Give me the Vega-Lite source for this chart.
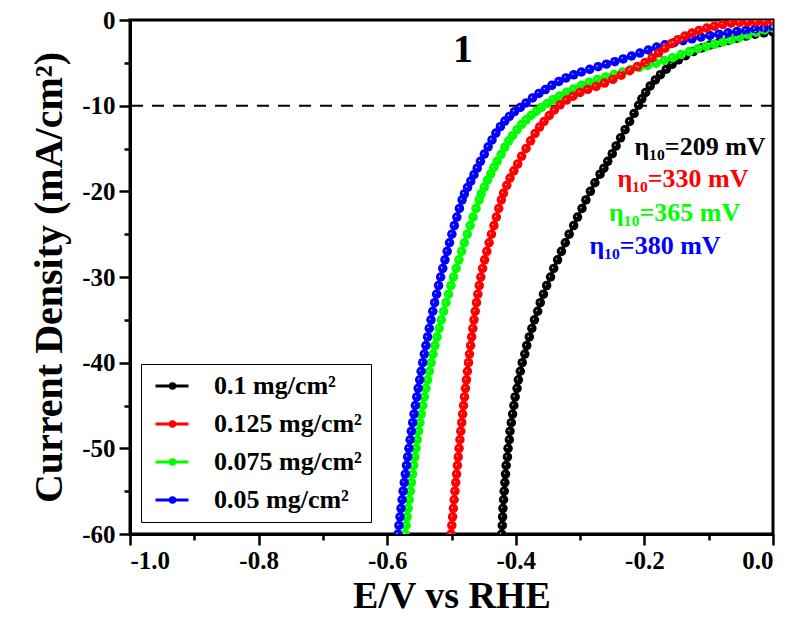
{
"$schema": "https://vega.github.io/schema/vega-lite/v6.json",
"width": 643, "height": 514,
"autosize": "none",
"padding": {"left": 130, "top": 20, "right": 23, "bottom": 90},
"background": "white",
"datasets": {
"curves": [
{"s":"0.1 mg/cm²","E":0,"j":-1.40},{"s":"0.1 mg/cm²","E":-0.014,"j":-1.50},{"s":"0.1 mg/cm²","E":-0.028,"j":-1.66},{"s":"0.1 mg/cm²","E":-0.042,"j":-1.88},{"s":"0.1 mg/cm²","E":-0.056,"j":-2.13},{"s":"0.1 mg/cm²","E":-0.070,"j":-2.38},{"s":"0.1 mg/cm²","E":-0.084,"j":-2.63},{"s":"0.1 mg/cm²","E":-0.098,"j":-2.91},{"s":"0.1 mg/cm²","E":-0.111,"j":-3.27},{"s":"0.1 mg/cm²","E":-0.124,"j":-3.69},{"s":"0.1 mg/cm²","E":-0.136,"j":-4.16},{"s":"0.1 mg/cm²","E":-0.147,"j":-4.65},{"s":"0.1 mg/cm²","E":-0.157,"j":-5.18},{"s":"0.1 mg/cm²","E":-0.166,"j":-5.75},{"s":"0.1 mg/cm²","E":-0.175,"j":-6.38},{"s":"0.1 mg/cm²","E":-0.183,"j":-7.00},{"s":"0.1 mg/cm²","E":-0.191,"j":-7.70},{"s":"0.1 mg/cm²","E":-0.198,"j":-8.45},{"s":"0.1 mg/cm²","E":-0.204,"j":-9.20},{"s":"0.1 mg/cm²","E":-0.209,"j":-9.95},{"s":"0.1 mg/cm²","E":-0.216,"j":-10.9},{"s":"0.1 mg/cm²","E":-0.223,"j":-11.85},{"s":"0.1 mg/cm²","E":-0.230,"j":-12.8},{"s":"0.1 mg/cm²","E":-0.237,"j":-13.75},{"s":"0.1 mg/cm²","E":-0.244,"j":-14.7},{"s":"0.1 mg/cm²","E":-0.250,"j":-15.6},{"s":"0.1 mg/cm²","E":-0.257,"j":-16.5},{"s":"0.1 mg/cm²","E":-0.263,"j":-17.3},{"s":"0.1 mg/cm²","E":-0.269,"j":-18},{"s":"0.1 mg/cm²","E":-0.277,"j":-19},{"s":"0.1 mg/cm²","E":-0.284,"j":-20},{"s":"0.1 mg/cm²","E":-0.291,"j":-21},{"s":"0.1 mg/cm²","E":-0.297,"j":-22},{"s":"0.1 mg/cm²","E":-0.304,"j":-23},{"s":"0.1 mg/cm²","E":-0.310,"j":-24},{"s":"0.1 mg/cm²","E":-0.317,"j":-25},{"s":"0.1 mg/cm²","E":-0.323,"j":-26},{"s":"0.1 mg/cm²","E":-0.329,"j":-27},{"s":"0.1 mg/cm²","E":-0.335,"j":-28},{"s":"0.1 mg/cm²","E":-0.341,"j":-29},{"s":"0.1 mg/cm²","E":-0.346,"j":-30},{"s":"0.1 mg/cm²","E":-0.352,"j":-31},{"s":"0.1 mg/cm²","E":-0.357,"j":-32},{"s":"0.1 mg/cm²","E":-0.362,"j":-33},{"s":"0.1 mg/cm²","E":-0.366,"j":-34},{"s":"0.1 mg/cm²","E":-0.371,"j":-35},{"s":"0.1 mg/cm²","E":-0.375,"j":-36},{"s":"0.1 mg/cm²","E":-0.379,"j":-37},{"s":"0.1 mg/cm²","E":-0.383,"j":-38},{"s":"0.1 mg/cm²","E":-0.386,"j":-39},{"s":"0.1 mg/cm²","E":-0.390,"j":-40},{"s":"0.1 mg/cm²","E":-0.393,"j":-41},{"s":"0.1 mg/cm²","E":-0.396,"j":-42},{"s":"0.1 mg/cm²","E":-0.398,"j":-43},{"s":"0.1 mg/cm²","E":-0.401,"j":-44},{"s":"0.1 mg/cm²","E":-0.403,"j":-45},{"s":"0.1 mg/cm²","E":-0.405,"j":-46},{"s":"0.1 mg/cm²","E":-0.407,"j":-47},{"s":"0.1 mg/cm²","E":-0.409,"j":-48},{"s":"0.1 mg/cm²","E":-0.410,"j":-49},{"s":"0.1 mg/cm²","E":-0.412,"j":-50},{"s":"0.1 mg/cm²","E":-0.413,"j":-51},{"s":"0.1 mg/cm²","E":-0.415,"j":-52},{"s":"0.1 mg/cm²","E":-0.416,"j":-53},{"s":"0.1 mg/cm²","E":-0.417,"j":-54},{"s":"0.1 mg/cm²","E":-0.418,"j":-55},{"s":"0.1 mg/cm²","E":-0.419,"j":-56},{"s":"0.1 mg/cm²","E":-0.420,"j":-57},{"s":"0.1 mg/cm²","E":-0.4205,"j":-58},{"s":"0.1 mg/cm²","E":-0.421,"j":-59},{"s":"0.1 mg/cm²","E":-0.422,"j":-60},{"s":"0.1 mg/cm²","E":-0.4225,"j":-61},

{"s":"0.075 mg/cm²","E":0,"j":-0.93},{"s":"0.075 mg/cm²","E":-0.013,"j":-1.16},{"s":"0.075 mg/cm²","E":-0.026,"j":-1.43},{"s":"0.075 mg/cm²","E":-0.039,"j":-1.73},{"s":"0.075 mg/cm²","E":-0.052,"j":-2.00},{"s":"0.075 mg/cm²","E":-0.065,"j":-2.30},{"s":"0.075 mg/cm²","E":-0.078,"j":-2.56},{"s":"0.075 mg/cm²","E":-0.091,"j":-2.82},{"s":"0.075 mg/cm²","E":-0.104,"j":-3.08},{"s":"0.075 mg/cm²","E":-0.117,"j":-3.35},{"s":"0.075 mg/cm²","E":-0.130,"j":-3.68},{"s":"0.075 mg/cm²","E":-0.143,"j":-4.03},{"s":"0.075 mg/cm²","E":-0.156,"j":-4.40},{"s":"0.075 mg/cm²","E":-0.169,"j":-4.73},{"s":"0.075 mg/cm²","E":-0.182,"j":-5.04},{"s":"0.075 mg/cm²","E":-0.195,"j":-5.30},{"s":"0.075 mg/cm²","E":-0.208,"j":-5.54},{"s":"0.075 mg/cm²","E":-0.221,"j":-5.79},{"s":"0.075 mg/cm²","E":-0.234,"j":-6.07},{"s":"0.075 mg/cm²","E":-0.247,"j":-6.36},{"s":"0.075 mg/cm²","E":-0.260,"j":-6.65},{"s":"0.075 mg/cm²","E":-0.273,"j":-6.95},{"s":"0.075 mg/cm²","E":-0.286,"j":-7.28},{"s":"0.075 mg/cm²","E":-0.298,"j":-7.63},{"s":"0.075 mg/cm²","E":-0.310,"j":-8.04},{"s":"0.075 mg/cm²","E":-0.321,"j":-8.44},{"s":"0.075 mg/cm²","E":-0.332,"j":-8.88},{"s":"0.075 mg/cm²","E":-0.342,"j":-9.30},{"s":"0.075 mg/cm²","E":-0.351,"j":-9.74},{"s":"0.075 mg/cm²","E":-0.360,"j":-10.2},{"s":"0.075 mg/cm²","E":-0.368,"j":-10.65},{"s":"0.075 mg/cm²","E":-0.376,"j":-11.12},{"s":"0.075 mg/cm²","E":-0.384,"j":-11.65},{"s":"0.075 mg/cm²","E":-0.391,"j":-12.2},{"s":"0.075 mg/cm²","E":-0.398,"j":-12.8},{"s":"0.075 mg/cm²","E":-0.405,"j":-13.5},{"s":"0.075 mg/cm²","E":-0.411,"j":-14.1},{"s":"0.075 mg/cm²","E":-0.417,"j":-14.85},{"s":"0.075 mg/cm²","E":-0.423,"j":-15.7},{"s":"0.075 mg/cm²","E":-0.429,"j":-16.5},{"s":"0.075 mg/cm²","E":-0.434,"j":-17.2},{"s":"0.075 mg/cm²","E":-0.439,"j":-17.95},{"s":"0.075 mg/cm²","E":-0.444,"j":-18.7},{"s":"0.075 mg/cm²","E":-0.449,"j":-19.5},{"s":"0.075 mg/cm²","E":-0.454,"j":-20.3},{"s":"0.075 mg/cm²","E":-0.457,"j":-21},{"s":"0.075 mg/cm²","E":-0.4618,"j":-22},{"s":"0.075 mg/cm²","E":-0.4665,"j":-23},{"s":"0.075 mg/cm²","E":-0.471,"j":-24},{"s":"0.075 mg/cm²","E":-0.4755,"j":-25},{"s":"0.075 mg/cm²","E":-0.480,"j":-26},{"s":"0.075 mg/cm²","E":-0.4843,"j":-27},{"s":"0.075 mg/cm²","E":-0.4885,"j":-28},{"s":"0.075 mg/cm²","E":-0.4927,"j":-29},{"s":"0.075 mg/cm²","E":-0.4968,"j":-30},{"s":"0.075 mg/cm²","E":-0.5008,"j":-31},{"s":"0.075 mg/cm²","E":-0.5047,"j":-32},{"s":"0.075 mg/cm²","E":-0.5085,"j":-33},{"s":"0.075 mg/cm²","E":-0.5122,"j":-34},{"s":"0.075 mg/cm²","E":-0.5158,"j":-35},{"s":"0.075 mg/cm²","E":-0.5192,"j":-36},{"s":"0.075 mg/cm²","E":-0.5225,"j":-37},{"s":"0.075 mg/cm²","E":-0.5257,"j":-38},{"s":"0.075 mg/cm²","E":-0.5287,"j":-39},{"s":"0.075 mg/cm²","E":-0.5316,"j":-40},{"s":"0.075 mg/cm²","E":-0.5344,"j":-41},{"s":"0.075 mg/cm²","E":-0.5371,"j":-42},{"s":"0.075 mg/cm²","E":-0.5397,"j":-43},{"s":"0.075 mg/cm²","E":-0.5422,"j":-44},{"s":"0.075 mg/cm²","E":-0.5446,"j":-45},{"s":"0.075 mg/cm²","E":-0.5469,"j":-46},{"s":"0.075 mg/cm²","E":-0.5491,"j":-47},{"s":"0.075 mg/cm²","E":-0.5512,"j":-48},{"s":"0.075 mg/cm²","E":-0.5532,"j":-49},{"s":"0.075 mg/cm²","E":-0.5551,"j":-50},{"s":"0.075 mg/cm²","E":-0.557,"j":-51},{"s":"0.075 mg/cm²","E":-0.5588,"j":-52},{"s":"0.075 mg/cm²","E":-0.5606,"j":-53},{"s":"0.075 mg/cm²","E":-0.5623,"j":-54},{"s":"0.075 mg/cm²","E":-0.564,"j":-55},{"s":"0.075 mg/cm²","E":-0.5657,"j":-56},{"s":"0.075 mg/cm²","E":-0.5674,"j":-57},{"s":"0.075 mg/cm²","E":-0.569,"j":-58},{"s":"0.075 mg/cm²","E":-0.5706,"j":-59},{"s":"0.075 mg/cm²","E":-0.5722,"j":-60},{"s":"0.075 mg/cm²","E":-0.5738,"j":-61},

{"s":"0.05 mg/cm²","E":0,"j":-0.82},{"s":"0.05 mg/cm²","E":-0.014,"j":-0.93},{"s":"0.05 mg/cm²","E":-0.028,"j":-1.05},{"s":"0.05 mg/cm²","E":-0.042,"j":-1.19},{"s":"0.05 mg/cm²","E":-0.056,"j":-1.33},{"s":"0.05 mg/cm²","E":-0.070,"j":-1.49},{"s":"0.05 mg/cm²","E":-0.084,"j":-1.65},{"s":"0.05 mg/cm²","E":-0.098,"j":-1.81},{"s":"0.05 mg/cm²","E":-0.112,"j":-1.99},{"s":"0.05 mg/cm²","E":-0.126,"j":-2.20},{"s":"0.05 mg/cm²","E":-0.140,"j":-2.42},{"s":"0.05 mg/cm²","E":-0.154,"j":-2.65},{"s":"0.05 mg/cm²","E":-0.168,"j":-2.90},{"s":"0.05 mg/cm²","E":-0.181,"j":-3.15},{"s":"0.05 mg/cm²","E":-0.194,"j":-3.50},{"s":"0.05 mg/cm²","E":-0.207,"j":-3.86},{"s":"0.05 mg/cm²","E":-0.220,"j":-4.20},{"s":"0.05 mg/cm²","E":-0.233,"j":-4.54},{"s":"0.05 mg/cm²","E":-0.246,"j":-4.86},{"s":"0.05 mg/cm²","E":-0.259,"j":-5.15},{"s":"0.05 mg/cm²","E":-0.272,"j":-5.45},{"s":"0.05 mg/cm²","E":-0.285,"j":-5.76},{"s":"0.05 mg/cm²","E":-0.298,"j":-6.07},{"s":"0.05 mg/cm²","E":-0.310,"j":-6.40},{"s":"0.05 mg/cm²","E":-0.322,"j":-6.76},{"s":"0.05 mg/cm²","E":-0.333,"j":-7.17},{"s":"0.05 mg/cm²","E":-0.344,"j":-7.63},{"s":"0.05 mg/cm²","E":-0.354,"j":-8.12},{"s":"0.05 mg/cm²","E":-0.364,"j":-8.57},{"s":"0.05 mg/cm²","E":-0.374,"j":-9.10},{"s":"0.05 mg/cm²","E":-0.384,"j":-9.68},{"s":"0.05 mg/cm²","E":-0.393,"j":-10.2},{"s":"0.05 mg/cm²","E":-0.402,"j":-10.7},{"s":"0.05 mg/cm²","E":-0.410,"j":-11.25},{"s":"0.05 mg/cm²","E":-0.417,"j":-11.8},{"s":"0.05 mg/cm²","E":-0.424,"j":-12.45},{"s":"0.05 mg/cm²","E":-0.431,"j":-13.2},{"s":"0.05 mg/cm²","E":-0.437,"j":-14.0},{"s":"0.05 mg/cm²","E":-0.443,"j":-14.8},{"s":"0.05 mg/cm²","E":-0.449,"j":-15.65},{"s":"0.05 mg/cm²","E":-0.455,"j":-16.5},{"s":"0.05 mg/cm²","E":-0.460,"j":-17.3},{"s":"0.05 mg/cm²","E":-0.465,"j":-18.05},{"s":"0.05 mg/cm²","E":-0.470,"j":-18.8},{"s":"0.05 mg/cm²","E":-0.475,"j":-19.55},{"s":"0.05 mg/cm²","E":-0.480,"j":-20.3},{"s":"0.05 mg/cm²","E":-0.4835,"j":-21},{"s":"0.05 mg/cm²","E":-0.4877,"j":-22},{"s":"0.05 mg/cm²","E":-0.4917,"j":-23},{"s":"0.05 mg/cm²","E":-0.4956,"j":-24},{"s":"0.05 mg/cm²","E":-0.4994,"j":-25},{"s":"0.05 mg/cm²","E":-0.5031,"j":-26},{"s":"0.05 mg/cm²","E":-0.5067,"j":-27},{"s":"0.05 mg/cm²","E":-0.5102,"j":-28},{"s":"0.05 mg/cm²","E":-0.5136,"j":-29},{"s":"0.05 mg/cm²","E":-0.5169,"j":-30},{"s":"0.05 mg/cm²","E":-0.5201,"j":-31},{"s":"0.05 mg/cm²","E":-0.5232,"j":-32},{"s":"0.05 mg/cm²","E":-0.5262,"j":-33},{"s":"0.05 mg/cm²","E":-0.5291,"j":-34},{"s":"0.05 mg/cm²","E":-0.5319,"j":-35},{"s":"0.05 mg/cm²","E":-0.5346,"j":-36},{"s":"0.05 mg/cm²","E":-0.5372,"j":-37},{"s":"0.05 mg/cm²","E":-0.5398,"j":-38},{"s":"0.05 mg/cm²","E":-0.5423,"j":-39},{"s":"0.05 mg/cm²","E":-0.5448,"j":-40},{"s":"0.05 mg/cm²","E":-0.5472,"j":-41},{"s":"0.05 mg/cm²","E":-0.5495,"j":-42},{"s":"0.05 mg/cm²","E":-0.5518,"j":-43},{"s":"0.05 mg/cm²","E":-0.554,"j":-44},{"s":"0.05 mg/cm²","E":-0.5562,"j":-45},{"s":"0.05 mg/cm²","E":-0.5583,"j":-46},{"s":"0.05 mg/cm²","E":-0.5604,"j":-47},{"s":"0.05 mg/cm²","E":-0.5624,"j":-48},{"s":"0.05 mg/cm²","E":-0.5644,"j":-49},{"s":"0.05 mg/cm²","E":-0.5663,"j":-50},{"s":"0.05 mg/cm²","E":-0.5682,"j":-51},{"s":"0.05 mg/cm²","E":-0.570,"j":-52},{"s":"0.05 mg/cm²","E":-0.5718,"j":-53},{"s":"0.05 mg/cm²","E":-0.5735,"j":-54},{"s":"0.05 mg/cm²","E":-0.5752,"j":-55},{"s":"0.05 mg/cm²","E":-0.5769,"j":-56},{"s":"0.05 mg/cm²","E":-0.5785,"j":-57},{"s":"0.05 mg/cm²","E":-0.5801,"j":-58},{"s":"0.05 mg/cm²","E":-0.5817,"j":-59},{"s":"0.05 mg/cm²","E":-0.5833,"j":-60},{"s":"0.05 mg/cm²","E":-0.5849,"j":-61},

{"s":"0.125 mg/cm²","E":0,"j":-0.20},{"s":"0.125 mg/cm²","E":-0.013,"j":-0.21},{"s":"0.125 mg/cm²","E":-0.026,"j":-0.23},{"s":"0.125 mg/cm²","E":-0.039,"j":-0.25},{"s":"0.125 mg/cm²","E":-0.052,"j":-0.29},{"s":"0.125 mg/cm²","E":-0.065,"j":-0.37},{"s":"0.125 mg/cm²","E":-0.078,"j":-0.52},{"s":"0.125 mg/cm²","E":-0.091,"j":-0.72},{"s":"0.125 mg/cm²","E":-0.103,"j":-0.94},{"s":"0.125 mg/cm²","E":-0.115,"j":-1.22},{"s":"0.125 mg/cm²","E":-0.126,"j":-1.53},{"s":"0.125 mg/cm²","E":-0.137,"j":-1.88},{"s":"0.125 mg/cm²","E":-0.148,"j":-2.30},{"s":"0.125 mg/cm²","E":-0.158,"j":-2.75},{"s":"0.125 mg/cm²","E":-0.168,"j":-3.30},{"s":"0.125 mg/cm²","E":-0.178,"j":-3.85},{"s":"0.125 mg/cm²","E":-0.188,"j":-4.42},{"s":"0.125 mg/cm²","E":-0.199,"j":-4.96},{"s":"0.125 mg/cm²","E":-0.211,"j":-5.44},{"s":"0.125 mg/cm²","E":-0.223,"j":-5.92},{"s":"0.125 mg/cm²","E":-0.236,"j":-6.44},{"s":"0.125 mg/cm²","E":-0.249,"j":-6.92},{"s":"0.125 mg/cm²","E":-0.262,"j":-7.36},{"s":"0.125 mg/cm²","E":-0.275,"j":-7.75},{"s":"0.125 mg/cm²","E":-0.288,"j":-8.10},{"s":"0.125 mg/cm²","E":-0.300,"j":-8.45},{"s":"0.125 mg/cm²","E":-0.311,"j":-8.90},{"s":"0.125 mg/cm²","E":-0.321,"j":-9.35},{"s":"0.125 mg/cm²","E":-0.331,"j":-9.90},{"s":"0.125 mg/cm²","E":-0.340,"j":-10.5},{"s":"0.125 mg/cm²","E":-0.348,"j":-11.15},{"s":"0.125 mg/cm²","E":-0.356,"j":-11.85},{"s":"0.125 mg/cm²","E":-0.363,"j":-12.5},{"s":"0.125 mg/cm²","E":-0.370,"j":-13.25},{"s":"0.125 mg/cm²","E":-0.377,"j":-14.1},{"s":"0.125 mg/cm²","E":-0.384,"j":-15.0},{"s":"0.125 mg/cm²","E":-0.391,"j":-15.9},{"s":"0.125 mg/cm²","E":-0.397,"j":-16.8},{"s":"0.125 mg/cm²","E":-0.403,"j":-17.6},{"s":"0.125 mg/cm²","E":-0.409,"j":-18.45},{"s":"0.125 mg/cm²","E":-0.414,"j":-19.3},{"s":"0.125 mg/cm²","E":-0.419,"j":-20.2},{"s":"0.125 mg/cm²","E":-0.4225,"j":-21},{"s":"0.125 mg/cm²","E":-0.4265,"j":-22},{"s":"0.125 mg/cm²","E":-0.4303,"j":-23},{"s":"0.125 mg/cm²","E":-0.434,"j":-24},{"s":"0.125 mg/cm²","E":-0.4378,"j":-25},{"s":"0.125 mg/cm²","E":-0.4415,"j":-26},{"s":"0.125 mg/cm²","E":-0.4451,"j":-27},{"s":"0.125 mg/cm²","E":-0.4485,"j":-28},{"s":"0.125 mg/cm²","E":-0.4516,"j":-29},{"s":"0.125 mg/cm²","E":-0.4544,"j":-30},{"s":"0.125 mg/cm²","E":-0.4568,"j":-31},{"s":"0.125 mg/cm²","E":-0.459,"j":-32},{"s":"0.125 mg/cm²","E":-0.4611,"j":-33},{"s":"0.125 mg/cm²","E":-0.4631,"j":-34},{"s":"0.125 mg/cm²","E":-0.465,"j":-35},{"s":"0.125 mg/cm²","E":-0.4668,"j":-36},{"s":"0.125 mg/cm²","E":-0.4686,"j":-37},{"s":"0.125 mg/cm²","E":-0.4703,"j":-38},{"s":"0.125 mg/cm²","E":-0.472,"j":-39},{"s":"0.125 mg/cm²","E":-0.4736,"j":-40},{"s":"0.125 mg/cm²","E":-0.4752,"j":-41},{"s":"0.125 mg/cm²","E":-0.4768,"j":-42},{"s":"0.125 mg/cm²","E":-0.4783,"j":-43},{"s":"0.125 mg/cm²","E":-0.4798,"j":-44},{"s":"0.125 mg/cm²","E":-0.4813,"j":-45},{"s":"0.125 mg/cm²","E":-0.4827,"j":-46},{"s":"0.125 mg/cm²","E":-0.4841,"j":-47},{"s":"0.125 mg/cm²","E":-0.4855,"j":-48},{"s":"0.125 mg/cm²","E":-0.4869,"j":-49},{"s":"0.125 mg/cm²","E":-0.4882,"j":-50},{"s":"0.125 mg/cm²","E":-0.4895,"j":-51},{"s":"0.125 mg/cm²","E":-0.4908,"j":-52},{"s":"0.125 mg/cm²","E":-0.4921,"j":-53},{"s":"0.125 mg/cm²","E":-0.4934,"j":-54},{"s":"0.125 mg/cm²","E":-0.4947,"j":-55},{"s":"0.125 mg/cm²","E":-0.4959,"j":-56},{"s":"0.125 mg/cm²","E":-0.4971,"j":-57},{"s":"0.125 mg/cm²","E":-0.4983,"j":-58},{"s":"0.125 mg/cm²","E":-0.4995,"j":-59},{"s":"0.125 mg/cm²","E":-0.5007,"j":-60},{"s":"0.125 mg/cm²","E":-0.5019,"j":-61}
],
"notes": [
{"s":"0.1 mg/cm²","E":-0.1135,"j":-14.8,"t":"η₁₀=209 mV"},
{"s":"0.125 mg/cm²","E":-0.140,"j":-18.6,"t":"η₁₀=330 mV"},
{"s":"0.075 mg/cm²","E":-0.153,"j":-22.5,"t":"η₁₀=365 mV"},
{"s":"0.05 mg/cm²","E":-0.1835,"j":-26.4,"t":"η₁₀=380 mV"}
],
"tag": [{"E":-0.482,"j":-3.5,"t":"1"}]
},
"config": {
"view": {"stroke": "black", "strokeWidth": 3},
"font": "Liberation Serif",
"axis": {"labelFont": "Liberation Serif", "labelFontSize": 25, "labelFontWeight": "bold", "labelColor": "black", "titleFont": "Liberation Serif", "titleFontSize": 40, "titleFontWeight": "bold", "titleColor": "black", "domainColor": "black", "domainWidth": 3, "tickColor": "black", "tickWidth": 2.5, "grid": false}
},
"encoding": {
"x": {"field": "E", "type": "quantitative", "scale": {"domain": [-1, 0], "nice": false, "zero": false},
 "axis": {"title": "E/V vs RHE", "values": [-1,-0.9,-0.8,-0.7,-0.6,-0.5,-0.4,-0.3,-0.2,-0.1,0], "tickSize": {"condition": {"test": "abs(round(datum.value*10))%2==1", "value": 6}, "value": 11}, "labelExpr": "abs(round(datum.value*10))%2==1 ? '' : replace(format(datum.value,'.1f'),'\u2212','-')", "labelPadding": 3, "titlePadding": 4, "titleFontSize": 38}},
"y": {"field": "j", "type": "quantitative", "scale": {"domain": [-60, 0], "nice": false, "zero": false},
 "axis": {"title": "Current Density (mA/cm²)", "values": [0,-5,-10,-15,-20,-25,-30,-35,-40,-45,-50,-55,-60], "tickSize": {"condition": {"test": "datum.value%10!=0", "value": 6}, "value": 11}, "labelExpr": "datum.value%10!=0 ? '' : replace(format(datum.value,'d'),'\u2212','-')", "labelPadding": 4, "titlePadding": 12}}
},
"layer": [
{"data": {"values": [{"j": -10}]}, "mark": {"type": "rule", "strokeDash": [12, 9], "strokeWidth": 2, "color": "black"}, "encoding": {"x": null, "y": {"field": "j", "type": "quantitative"}}},
{"data": {"name": "curves"}, "mark": {"type": "line", "strokeWidth": 3, "clip": true},
 "encoding": {"color": {"field": "s", "type": "nominal", "scale": {"domain": ["0.1 mg/cm²", "0.125 mg/cm²", "0.075 mg/cm²", "0.05 mg/cm²"], "range": ["#000000", "#ff0000", "#00ff00", "#0000ff"]},
  "legend": {"orient": "none", "legendX": 11, "legendY": 344, "title": null, "symbolType": "M-1.5,0H1.45A0.45,0.45 0 1,1 2.35,0A0.45,0.45 0 1,1 1.45,0M2.35,0H5.1", "symbolSize": 100, "symbolStrokeWidth": 3, "labelFont": "Liberation Serif", "labelFontSize": 26, "labelFontWeight": "bold", "labelColor": "black", "rowPadding": 12, "padding": 9, "fillColor": "white", "strokeColor": "black", "labelOffset": 38, "labelLimit": 300}}}},
{"data": {"name": "curves"}, "mark": {"type": "point", "filled": true, "size": 90, "opacity": 1, "clip": true},
 "encoding": {"color": {"field": "s", "type": "nominal"}}},
{"data": {"name": "curves"}, "mark": {"type": "point", "filled": true, "size": 90, "opacity": 0.85, "color": "white", "shape": "M-0.38,-0.17A0.16,0.16 0 1,0 -0.06,-0.17A0.16,0.16 0 1,0 -0.38,-0.17Z", "clip": true}},
{"data": {"name": "notes"}, "mark": {"type": "text", "font": "Liberation Serif", "fontSize": 26, "fontWeight": "bold", "align": "center", "baseline": "middle"},
 "encoding": {"text": {"field": "t"}, "color": {"field": "s", "type": "nominal"}}},
{"data": {"name": "tag"}, "mark": {"type": "text", "font": "Liberation Serif", "fontSize": 40, "fontWeight": "bold", "align": "center", "baseline": "middle", "color": "black"},
 "encoding": {"text": {"field": "t"}}}
]
}
